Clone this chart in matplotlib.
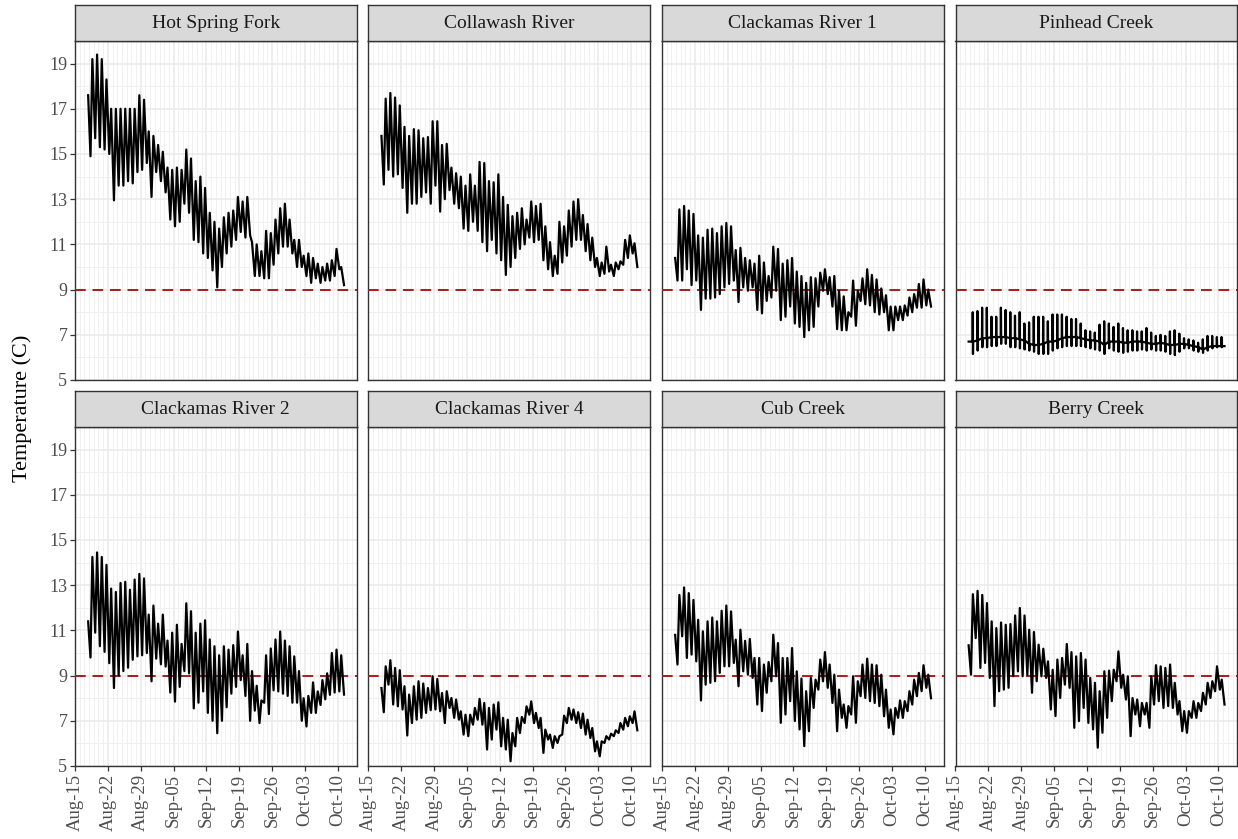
import matplotlib
matplotlib.use("Agg")
import matplotlib.pyplot as plt
import matplotlib.dates as mdates
import numpy as np
from datetime import datetime

plt.rcParams['font.family'] = ['Liberation Serif', 'DejaVu Serif']

# daily minimum / maximum temperature (C), one value per day from Aug-18 to Oct-10
site_names = ["Hot Spring Fork", "Collawash River", "Clackamas River 1", "Pinhead Creek",
              "Clackamas River 2", "Clackamas River 4", "Cub Creek", "Berry Creek"]

hsf_max = [19.2, 19.4, 19.2, 18.3, 17.0, 17.0, 17.0, 17.0, 17.0, 17.0, 17.6, 17.4, 16.0, 15.8,
           15.4, 15.1, 14.4, 14.3, 14.4, 14.3, 15.2, 14.8, 13.8, 14.0, 13.5, 12.4, 12.0, 11.7,
           12.2, 12.4, 12.5, 13.1, 12.9, 13.1, 11.1, 11.0, 10.7, 11.6, 11.5, 12.1, 12.6, 12.8,
           12.1, 11.2, 11.2, 10.5, 10.6, 10.4, 10.15, 10.0, 10.15, 10.3, 10.8, 10.0]
hsf_min = [14.9, 15.7, 15.3, 15.2, 15.0, 12.95, 13.6, 13.6, 13.8, 13.7, 14.2, 14.3, 14.6, 13.1,
           14.2, 13.8, 13.3, 12.1, 11.8, 12.0, 12.8, 12.4, 11.2, 11.1, 10.6, 10.4, 9.85, 9.1,
           10.0, 10.6, 10.9, 11.2, 11.55, 11.3, 11.4, 9.6, 9.6, 9.5, 9.5, 10.1, 10.6, 10.9,
           10.9, 10.6, 10.0, 10.0, 9.6, 9.3, 9.5, 9.3, 9.4, 9.4, 9.6, 9.9]
hsf_ends = (17.6, 9.2)

col_max = [17.45, 17.7, 17.5, 17.15, 16.2, 15.8, 16.1, 16.05, 15.7, 15.75, 16.45, 16.45, 15.4,
           15.45, 14.4, 14.15, 14.0, 13.6, 14.1, 13.6, 14.65, 14.6, 13.8, 13.75, 14.1, 13.1,
           12.75, 12.25, 12.4, 12.6, 12.1, 12.9, 12.7, 12.8, 11.8, 11.1, 10.5, 12.0, 11.8, 12.5,
           12.9, 13.0, 12.3, 11.9, 11.3, 10.4, 10.2, 10.9, 10.1, 10.2, 10.25, 11.2, 11.4, 11.05]
col_min = [13.65, 14.3, 14.0, 14.1, 13.5, 12.4, 12.8, 12.8, 13.1, 13.3, 12.8, 13.6, 12.45,
           13.0, 13.4, 12.8, 12.6, 11.7, 11.6, 12.0, 11.6, 11.1, 10.7, 11.2, 10.6, 10.3, 9.65,
           10.0, 10.4, 10.8, 11.0, 11.3, 11.1, 11.2, 10.3, 9.9, 9.6, 9.7, 10.2, 10.5, 10.9,
           11.2, 11.2, 10.7, 10.3, 10.0, 9.6, 9.7, 9.8, 9.6, 9.9, 10.1, 10.4, 10.6]
col_ends = (15.8, 10.0)

cr1_max = [12.55, 12.7, 12.5, 12.35, 11.4, 11.3, 11.65, 11.7, 11.5, 11.8, 11.95, 11.8, 10.75,
           10.85, 10.4, 10.3, 10.15, 10.5, 10.2, 9.6, 10.9, 10.8, 10.15, 10.3, 10.4, 9.8, 9.6,
           9.3, 9.55, 9.5, 9.75, 9.9, 9.55, 9.6, 8.95, 8.7, 8.0, 9.4, 8.95, 9.5, 9.9, 9.65,
           9.45, 9.05, 8.75, 8.25, 8.25, 8.25, 8.3, 8.65, 8.8, 9.25, 9.45, 9.0]
cr1_min = [9.4, 9.4, 9.9, 9.2, 9.4, 8.1, 8.6, 8.6, 8.65, 8.8, 9.1, 9.25, 9.4, 8.45, 9.1, 8.95,
           9.1, 8.1, 7.95, 8.5, 8.65, 8.95, 7.65, 7.8, 8.25, 7.5, 7.35, 6.9, 7.2, 7.35, 8.25,
           8.95, 8.8, 8.25, 7.25, 7.2, 7.2, 7.8, 7.4, 8.5, 8.35, 8.3, 8.0, 7.9, 8.0, 7.2, 7.2,
           7.65, 7.65, 7.85, 8.0, 8.2, 8.2, 8.3]
cr1_ends = (10.4, 8.25)

# Pinhead Creek logs a flat baseline with one short spike per day
pin_top = [8.0, 8.05, 8.2, 8.2, 7.8, 7.8, 8.2, 8.1, 8.0, 7.85, 8.0, 7.5, 7.55, 7.8, 7.8, 7.8,
           7.6, 7.9, 7.9, 7.9, 7.8, 7.7, 7.7, 7.5, 7.2, 7.15, 7.1, 7.45, 7.6, 7.5, 7.35, 7.5,
           7.3, 7.2, 7.2, 7.15, 7.15, 7.3, 7.1, 6.95, 7.0, 6.95, 7.15, 7.2, 7.05, 6.85, 6.8,
           6.75, 6.65, 6.8, 6.95, 6.95, 6.9, 6.9]
pin_bottom = [6.15, 6.3, 6.45, 6.45, 6.5, 6.5, 6.6, 6.6, 6.45, 6.45, 6.4, 6.35, 6.3, 6.25,
              6.15, 6.15, 6.15, 6.3, 6.4, 6.45, 6.5, 6.5, 6.5, 6.5, 6.45, 6.4, 6.35, 6.3, 6.15,
              6.4, 6.3, 6.25, 6.2, 6.25, 6.3, 6.3, 6.35, 6.3, 6.35, 6.3, 6.3, 6.25, 6.15, 6.1,
              6.25, 6.4, 6.4, 6.3, 6.25, 6.2, 6.3, 6.4, 6.45, 6.45]
pin_base = [6.7, 6.75, 6.85, 6.85, 6.9, 6.9, 6.9, 6.9, 6.85, 6.85, 6.8, 6.75, 6.6, 6.55, 6.55,
            6.6, 6.7, 6.7, 6.75, 6.85, 6.9, 6.9, 6.9, 6.85, 6.8, 6.75, 6.75, 6.7, 6.55, 6.7,
            6.7, 6.7, 6.65, 6.65, 6.7, 6.7, 6.7, 6.65, 6.6, 6.6, 6.65, 6.6, 6.55, 6.55, 6.6,
            6.6, 6.55, 6.5, 6.45, 6.35, 6.45, 6.5, 6.5, 6.5]

cr2_max = [14.25, 14.45, 14.25, 13.9, 12.85, 12.7, 13.1, 13.15, 12.8, 13.25, 13.5, 13.3, 11.7,
           12.1, 11.3, 11.7, 10.55, 10.9, 11.25, 10.4, 12.2, 11.85, 10.9, 11.3, 11.45, 10.6,
           10.3, 9.9, 10.3, 10.15, 10.35, 10.95, 9.9, 10.4, 9.2, 8.55, 7.9, 9.9, 10.2, 10.6,
           10.95, 10.55, 10.3, 9.85, 9.2, 8.0, 8.1, 8.7, 8.3, 8.8, 9.1, 10.0, 10.15, 9.9]
cr2_min = [9.8, 10.9, 10.3, 10.05, 9.55, 8.45, 9.0, 9.2, 9.35, 9.7, 9.85, 9.9, 10.0, 8.75, 9.75,
           9.5, 9.4, 8.25, 7.85, 8.5, 9.2, 9.1, 7.55, 7.8, 8.3, 7.35, 7.0, 6.45, 7.0, 7.6, 8.2,
           8.5, 8.8, 8.1, 7.0, 7.45, 6.9, 7.8, 7.3, 8.35, 8.3, 8.2, 8.1, 7.8, 7.8, 7.0, 6.75,
           7.35, 7.35, 7.7, 7.95, 8.15, 8.25, 8.3]
cr2_ends = (11.4, 8.16)

cr4_max = [9.41, 9.68, 9.34, 9.24, 8.53, 8.16, 8.53, 8.75, 8.65, 8.45, 8.97, 8.85, 8.23, 8.31,
           8.01, 7.94, 7.42, 7.27, 7.27, 7.57, 7.97, 7.79, 7.57, 7.72, 7.82, 7.13, 7.05, 6.46,
           7.13, 7.17, 7.64, 7.86, 7.35, 7.13, 6.61, 6.39, 6.32, 6.32, 7.23, 7.57, 7.5, 7.38,
           7.32, 7.05, 6.68, 6.09, 6.09, 6.32, 6.43, 6.58, 6.9, 7.13, 7.2, 7.42]
cr4_min = [7.38, 8.6, 7.72, 7.64, 7.5, 6.35, 6.9, 7.05, 7.13, 7.35, 7.47, 7.5, 7.42, 6.9, 7.57,
           7.13, 7.05, 6.39, 6.32, 6.83, 7.05, 6.83, 5.73, 6.17, 6.61, 5.87, 5.73, 5.21, 5.87,
           6.46, 6.9, 7.27, 6.9, 6.68, 5.58, 6.17, 5.8, 6.02, 6.39, 6.9, 7.05, 6.9, 6.68, 6.39,
           6.24, 5.65, 5.43, 6.02, 6.17, 6.32, 6.46, 6.61, 6.76, 6.9]
cr4_ends = (8.45, 6.58)

cub_max = [12.57, 12.9, 12.65, 12.35, 11.47, 10.96, 11.4, 11.57, 11.4, 11.87, 12.1, 11.84,
           10.59, 11.03, 10.54, 10.62, 9.78, 9.78, 9.49, 9.6, 10.81, 10.44, 9.78, 9.78, 10.22,
           9.19, 8.87, 8.31, 8.9, 8.82, 9.71, 10.04, 9.49, 9.04, 8.38, 7.72, 7.65, 8.97, 8.75,
           9.49, 9.75, 9.49, 9.46, 9.04, 8.38, 7.5, 7.57, 7.9, 7.87, 8.31, 8.82, 9.12, 9.46, 9.04]
cub_min = [9.49, 10.74, 9.78, 9.93, 9.63, 7.9, 8.6, 8.68, 8.75, 9.12, 9.41, 9.41, 9.56, 8.53,
           9.19, 9.04, 8.9, 7.72, 7.43, 8.24, 8.75, 8.97, 6.91, 7.28, 7.87, 6.99, 6.62, 5.88,
           6.54, 7.57, 8.38, 8.75, 8.46, 7.79, 6.54, 7.13, 6.69, 7.28, 6.91, 8.09, 8.01, 7.87,
           7.79, 7.65, 7.2, 6.69, 6.4, 7.13, 7.13, 7.43, 7.72, 8.09, 8.31, 8.46]
cub_ends = (10.8, 8.0)

ber_max = [12.6, 12.75, 12.57, 12.21, 11.4, 11.1, 11.35, 11.25, 11.28, 11.66, 11.99, 11.66,
           11.03, 10.93, 10.37, 10.19, 9.63, 9.26, 9.71, 9.78, 10.4, 10.04, 9.85, 10.0, 9.71,
           8.9, 8.68, 8.31, 9.19, 9.22, 9.26, 10.07, 9.04, 8.97, 8.01, 7.94, 7.79, 7.79, 8.97,
           9.46, 9.41, 9.34, 9.49, 8.68, 7.87, 7.43, 7.43, 7.87, 7.79, 8.24, 8.68, 8.75, 9.41, 8.82]
ber_min = [9.04, 10.66, 9.34, 9.56, 8.9, 7.65, 8.31, 8.38, 8.46, 8.97, 9.19, 8.97, 9.04, 8.24,
           8.75, 8.97, 8.9, 7.5, 7.21, 8.01, 8.6, 8.46, 6.69, 6.99, 7.57, 6.91, 6.62, 5.81,
           6.47, 7.13, 7.87, 8.75, 8.46, 7.94, 6.32, 7.28, 6.76, 7.28, 6.69, 7.72, 7.87, 7.57,
           7.65, 7.57, 7.28, 6.54, 6.47, 7.13, 7.13, 7.43, 7.72, 8.01, 8.31, 8.38]
ber_ends = (10.34, 7.72)

threshold = 9
y_ticks = [5, 7, 9, 11, 13, 15, 17, 19]

origin = mdates.date2num(datetime(2021, 8, 15))
first_day = 3  # first logged day is Aug-18


def diel_series(lows, highs, ends):
    t, v = [first_day - 0.2], [ends[0]]
    for i, (lo, hi) in enumerate(zip(lows, highs)):
        d = first_day + i
        t += [d + 0.3, d + 0.7]
        v += [lo, hi]
    t.append(first_day + len(highs) + 0.3)
    v.append(ends[1])
    return origin + np.array(t), np.array(v)


def spike_series(base, top, bottom):
    t, v = [first_day - 0.2], [base[0]]
    for i, (b, hi, lo) in enumerate(zip(base, top, bottom)):
        d = first_day + i
        t += [d + 0.64, d + 0.67, d + 0.72, d + 0.76]
        v += [b, hi, lo, b]
    t.append(first_day + len(base) + 0.3)
    v.append(base[-1])
    return origin + np.array(t), np.array(v)


series = [
    diel_series(hsf_min, hsf_max, hsf_ends),
    diel_series(col_min, col_max, col_ends),
    diel_series(cr1_min, cr1_max, cr1_ends),
    spike_series(pin_base, pin_top, pin_bottom),
    diel_series(cr2_min, cr2_max, cr2_ends),
    diel_series(cr4_min, cr4_max, cr4_ends),
    diel_series(cub_min, cub_max, cub_ends),
    diel_series(ber_min, ber_max, ber_ends),
]

W, H = 1238, 839
fig = plt.figure(figsize=(W / 100, H / 100), dpi=100)

col_left = [75, 368.3, 662, 955.5]
panel_w = 281.7
row_top = [41, 427]
row_bottom = [380, 766]
strip_h = 36

x_major = [origin + 7 * k for k in range(9)]
x_minor = [origin + k for k in range(61)]
y_minor = [6, 8, 10, 12, 14, 16, 18, 20]

for idx, name in enumerate(site_names):
    r, c = divmod(idx, 4)
    x0 = col_left[c]
    yt, yb = row_top[r], row_bottom[r]
    ax = fig.add_axes([x0 / W, 1 - yb / H, panel_w / W, (yb - yt) / H])
    t, v = series[idx]

    ax.set_xlim(origin, origin + 59.9)
    ax.set_ylim(5, 20)
    ax.set_xticks(x_major)
    ax.set_xticks(x_minor, minor=True)
    ax.set_yticks(y_ticks)
    ax.set_yticks(y_minor, minor=True)
    ax.grid(which='major', color='#EBEBEB', linewidth=1.2)
    ax.grid(which='minor', color='#F0F0F0', linewidth=0.7)
    ax.set_axisbelow(True)

    ax.axhline(threshold, color='#A81C1C', linestyle=(0, (5.5, 3.5)), linewidth=1.4, zorder=3)
    ax.plot(t, v, color='black', linewidth=1.6, zorder=4)

    for sp in ax.spines.values():
        sp.set_color('#333333')
        sp.set_linewidth(1.0)

    ax.tick_params(which='minor', length=0)
    ax.tick_params(which='major', color='#333333', length=3.5, width=0.9,
                   labelsize=13, labelcolor='#4D4D4D', pad=2)
    if c == 0:
        ax.set_yticklabels([str(y) for y in y_ticks])
    else:
        ax.tick_params(axis='y', which='major', length=0, labelleft=False)
    if r == 1:
        ax.xaxis.set_major_formatter(mdates.DateFormatter('%b-%d'))
        for lab in ax.get_xticklabels():
            lab.set_rotation(90)
            lab.set_fontsize(13.5)
    else:
        ax.tick_params(axis='x', which='major', length=0, labelbottom=False)

    # facet strip
    sax = fig.add_axes([x0 / W, 1 - yt / H, panel_w / W, strip_h / H])
    sax.set_facecolor('#D9D9D9')
    sax.set_xticks([])
    sax.set_yticks([])
    for sp in sax.spines.values():
        sp.set_color('#333333')
        sp.set_linewidth(1.0)
    sax.text(0.5, 0.5, name, ha='center', va='center', fontsize=14,
             color='#1A1A1A', transform=sax.transAxes)

fig.text(22 / W, 1 - 408 / H, "Temperature (C)", rotation=90, ha='center', va='center',
         fontsize=16, color='black')

fig.savefig('out.png', dpi=100)
